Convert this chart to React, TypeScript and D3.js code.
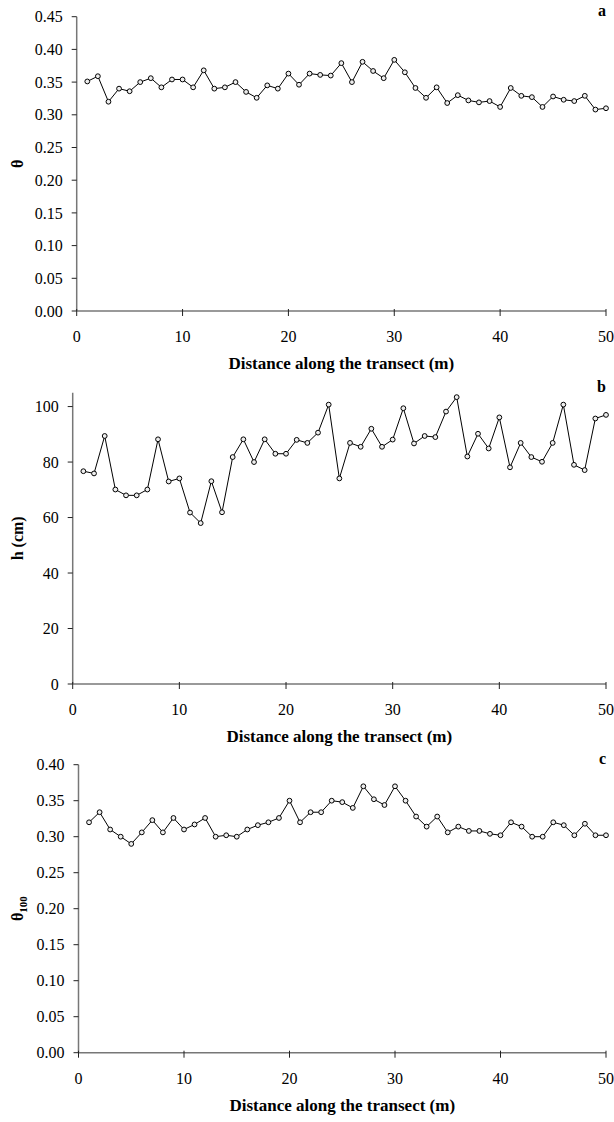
import React from 'react';
import * as d3 from 'd3';

// distance along the transect (m)
const distance = [
  1, 2, 3, 4, 5, 6, 7, 8, 9, 10, 11, 12, 13, 14, 15, 16, 17, 18, 19, 20, 21, 22, 23, 24, 25,
  26, 27, 28, 29, 30, 31, 32, 33, 34, 35, 36, 37, 38, 39, 40, 41, 42, 43, 44, 45, 46, 47, 48, 49, 50,
];

// panel a: water content
const theta = [
  0.351, 0.359, 0.32, 0.34, 0.336, 0.35, 0.356, 0.342, 0.354, 0.354,
  0.342, 0.368, 0.34, 0.342, 0.35, 0.335, 0.326, 0.345, 0.34, 0.363,
  0.346, 0.363, 0.361, 0.36, 0.379, 0.35, 0.381, 0.367, 0.356, 0.384,
  0.365, 0.341, 0.326, 0.342, 0.318, 0.33, 0.322, 0.319, 0.321, 0.312,
  0.341, 0.329, 0.327, 0.312, 0.328, 0.323, 0.321, 0.329, 0.308, 0.31,
];

// panel b: h (cm)
const head = [
  76.7, 75.9, 89.4, 70.1, 68, 68, 70.1, 88.2, 73, 74.1,
  61.8, 58, 73.1, 61.9, 81.8, 88.2, 80, 88.2, 83, 83,
  88, 86.9, 90.6, 100.7, 74.1, 86.9, 85.5, 92, 85.5, 88.1,
  99.4, 86.7, 89.4, 89, 98.2, 103.4, 82, 90.2, 84.9, 96.1,
  78.1, 86.9, 81.8, 80.1, 86.9, 100.7, 79, 77.1, 95.7, 97,
];

// panel c: theta 100
const theta100 = [
  0.32, 0.334, 0.31, 0.3, 0.29, 0.306, 0.323, 0.306, 0.326, 0.31,
  0.317, 0.326, 0.3, 0.302, 0.3, 0.31, 0.316, 0.32, 0.326, 0.35,
  0.32, 0.334, 0.334, 0.35, 0.348, 0.34, 0.37, 0.352, 0.344, 0.37,
  0.35, 0.328, 0.314, 0.328, 0.306, 0.314, 0.308, 0.308, 0.304, 0.302,
  0.32, 0.314, 0.3, 0.3, 0.32, 0.316, 0.302, 0.318, 0.302, 0.302,
];

const xTicks = [0, 10, 20, 30, 40, 50];
const thetaTicks = [0, 0.05, 0.1, 0.15, 0.2, 0.25, 0.3, 0.35, 0.4, 0.45];
const headTicks = [0, 20, 40, 60, 80, 100];
const theta100Ticks = [0, 0.05, 0.1, 0.15, 0.2, 0.25, 0.3, 0.35, 0.4];

const xTitle = 'Distance along the transect (m)';
const font = '"Liberation Serif", "Times New Roman", serif';
const axisColor = '#777';

const Panel = ({ values, yMax, yTicks, fmt, left, top, bottom, letter, ylabel }) => {
  const x = d3.scaleLinear().domain([0, 50]).range([left, 606]);
  const y = d3.scaleLinear().domain([0, yMax]).range([bottom, top]);
  const line = d3.line<number>()
    .x((d, i) => x(distance[i]))
    .y((d) => y(d));
  const midY = (top + bottom) / 2;

  return (
    <g fontFamily={font}>
      {/* axes */}
      <line x1={left} x2={left} y1={top} y2={bottom} stroke={axisColor} strokeWidth={1.5}/>
      <line x1={left} x2={606} y1={bottom} y2={bottom} stroke={axisColor} strokeWidth={1.5}/>
      {yTicks.map((t) => (
        <g key={t}>
          <line x1={left - 5} x2={left} y1={y(t)} y2={y(t)} stroke="#222"/>
          <text x={left - 14} y={y(t)} dy="0.35em" textAnchor="end" fontSize={16}>{fmt(t)}</text>
        </g>
      ))}
      {xTicks.map((t) => (
        <g key={t}>
          <line x1={x(t)} x2={x(t)} y1={bottom - 2} y2={bottom + 5} stroke="#222"/>
          <text x={x(t)} y={bottom + 31} textAnchor="middle" fontSize={16}>{t}</text>
        </g>
      ))}
      <text x={(left + 606) / 2} y={bottom + 58} textAnchor="middle" fontSize={17} fontWeight="bold">{xTitle}</text>
      <text transform={`translate(23, ${ midY }) rotate(-90)`} textAnchor="middle" fontSize={16} fontWeight="bold">
        {ylabel}
      </text>
      <text x={606} y={top - 1} textAnchor="end" fontSize={16} fontWeight="bold">{letter}</text>

      {/* data */}
      <path d={line(values) || ''} fill="none" stroke="#000" strokeWidth={1}/>
      {values.map((v, i) => (
        <circle key={i} cx={x(distance[i])} cy={y(v)} r={2.4} fill="#eee" stroke="#000" strokeWidth={1}/>
      ))}
    </g>
  );
};

const fmt2 = d3.format('.2f');
const fmt0 = d3.format('d');

const App = () => (
  <svg width={614} height={1122} style={{ position: 'absolute', left: 0, top: 0, background: '#fff' }}>
    <Panel values={theta} yMax={0.45} yTicks={thetaTicks} fmt={fmt2}
      left={76.7} top={16.7} bottom={311} letter="a" ylabel="θ"/>
    <Panel values={head} yMax={105} yTicks={headTicks} fmt={fmt0}
      left={72.7} top={392.7} bottom={684} letter="b" ylabel="h (cm)"/>
    <Panel values={theta100} yMax={0.4} yTicks={theta100Ticks} fmt={fmt2}
      left={78.5} top={764.7} bottom={1052.7} letter="c"
      ylabel={<>θ<tspan fontSize={11} dy={4}>100</tspan></>}/>
  </svg>
);

export default App;
